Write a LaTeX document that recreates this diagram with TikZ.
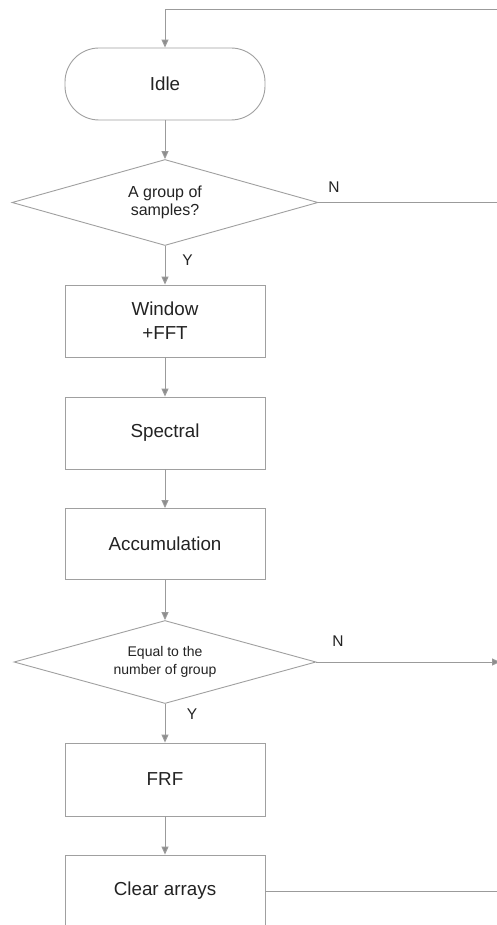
\documentclass[tikz,border=0pt]{standalone}
\usepackage{fontspec}
\setmainfont{Liberation Sans}
\usetikzlibrary{shapes.geometric,arrows.meta}
\definecolor{edgegray}{RGB}{160,160,160}
\definecolor{linegray}{RGB}{155,155,155}
\definecolor{tipgray}{RGB}{140,140,140}
\definecolor{inkgray}{RGB}{35,35,35}
\tikzset{
  flowbox/.style={draw=edgegray, line width=0.9pt, minimum width=200pt, minimum height=72pt,
    align=center, text=inkgray, font=\fontsize{18.8}{24}\selectfont, inner sep=0pt},
  startbox/.style={flowbox, rounded corners=34pt},
  decision/.style={draw=edgegray, line width=0.9pt, diamond, aspect=3.5, inner sep=0pt,
    align=center, text=inkgray},
  flowline/.style={draw=linegray, line width=1pt},
  flowarrow/.style={flowline, -{Triangle[length=8pt,width=7pt,fill=tipgray]}},
  branchlabel/.style={text=inkgray, font=\fontsize{15.5}{18}\selectfont, inner sep=0pt}
}
\begin{document}
\begin{tikzpicture}[x=1pt,y=-1pt]
\useasboundingbox (0,0) rectangle (497,925);
\clip (0,0) rectangle (497,925);
\fill[white] (0,0) rectangle (497,925);

% process steps
\node[startbox] (idle) at (165,84) {Idle};
\node[decision, minimum width=306pt, minimum height=86pt,
      font=\fontsize{16}{18}\selectfont] (grp) at (165,202.5) {A group of\\samples?};
\node[flowbox] (fft) at (165,321) {Window\\+FFT};
\node[flowbox] (spec) at (165,433) {Spectral};
\node[flowbox, minimum height=71pt] (acc) at (165,544) {Accumulation};
\node[decision, minimum width=302pt, minimum height=83pt,
      font=\fontsize{14}{18}\selectfont] (cnt) at (165,662) {Equal to the\\number of group};
\node[flowbox, minimum height=73pt] (frf) at (165,779.5) {FRF};
\node[flowbox] (clr) at (165,891) {Clear arrays};

% loop-back rail along the right side
\coordinate (topright) at (497,9.5);
\coordinate (topleft) at (165,9.5);
\coordinate (grpout) at (497,202.5);
\coordinate (cntout) at (500,662);
\coordinate (clrout) at (497,891);

% connectors
\draw[flowarrow] (topright) -- (topleft) -- (idle.north);
\draw[flowarrow] (idle.south) -- (grp.north);
\draw[flowarrow] (grp.south) -- (fft.north);
\draw[flowarrow] (fft.south) -- (spec.north);
\draw[flowarrow] (spec.south) -- (acc.north);
\draw[flowarrow] (acc.south) -- (cnt.north);
\draw[flowarrow] (cnt.south) -- (frf.north);
\draw[flowarrow] (frf.south) -- (clr.north);
\draw[flowline] (grp.east) -- (grpout);
\draw[flowarrow] (cnt.east) -- (cntout);
\draw[flowline] (clr.east) -- (clrout);

% branch labels
\node[branchlabel] (n1) at (334,187) {N};
\node[branchlabel] (y1) at (187.5,260) {Y};
\node[branchlabel] (n2) at (338,641) {N};
\node[branchlabel] (y2) at (192,714) {Y};
\end{tikzpicture}
\end{document}
